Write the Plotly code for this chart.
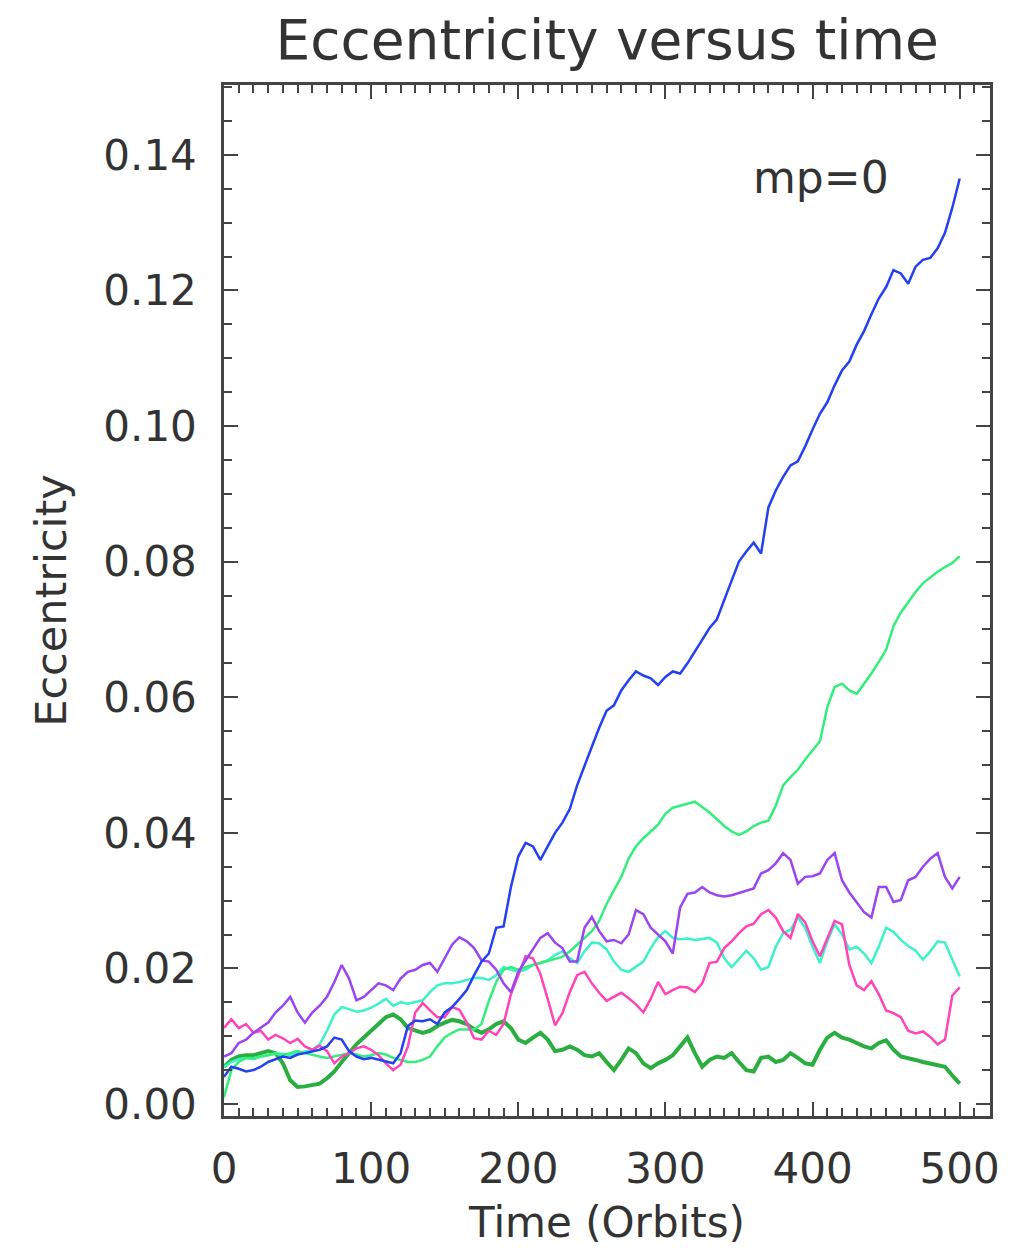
import plotly.graph_objects as go

# Time grid in orbits (one sample every 5 orbits)
time_orbits = list(range(0, 505, 5))

# Eccentricity histories, one row per 50 orbits
ecc_blue = [
    0.0040, 0.0055, 0.0052, 0.0048, 0.0050, 0.0055, 0.0062, 0.0066, 0.0070, 0.0068,
    0.0073, 0.0075, 0.0078, 0.0080, 0.0085, 0.0098, 0.0095, 0.0078, 0.0070, 0.0066,
    0.0068, 0.0065, 0.0063, 0.0060, 0.0075, 0.0115, 0.0123, 0.0122, 0.0125, 0.0118,
    0.0135, 0.0143, 0.0155, 0.0168, 0.0190, 0.0210, 0.0222, 0.0260, 0.0262, 0.0320,
    0.0365, 0.0385, 0.0380, 0.0360, 0.0380, 0.0400, 0.0415, 0.0435, 0.0470, 0.0500,
    0.0527, 0.0555, 0.0580, 0.0588, 0.0610, 0.0625, 0.0638, 0.0632, 0.0628, 0.0618,
    0.0630, 0.0638, 0.0635, 0.0650, 0.0668, 0.0685, 0.0702, 0.0715, 0.0745, 0.0772,
    0.0800, 0.0815, 0.0828, 0.0812, 0.0880, 0.0905, 0.0925, 0.0942, 0.0948, 0.0970,
    0.0995, 0.1018, 0.1035, 0.1060, 0.1082, 0.1095, 0.1120, 0.1140, 0.1165, 0.1188,
    0.1205, 0.1230, 0.1225, 0.1210, 0.1235, 0.1245, 0.1248, 0.1262, 0.1285, 0.1322,
    0.1365,
]

ecc_spring = [
    0.0010, 0.0050, 0.0062, 0.0068, 0.0068, 0.0070, 0.0072, 0.0074, 0.0072, 0.0075,
    0.0078, 0.0075, 0.0072, 0.0070, 0.0068, 0.0070, 0.0072, 0.0075, 0.0073, 0.0070,
    0.0072, 0.0075, 0.0073, 0.0068, 0.0065, 0.0062, 0.0062, 0.0065, 0.0070, 0.0085,
    0.0098, 0.0105, 0.0110, 0.0110, 0.0110, 0.0118, 0.0152, 0.0180, 0.0198, 0.0202,
    0.0198, 0.0202, 0.0205, 0.0208, 0.0212, 0.0215, 0.0217, 0.0225, 0.0235, 0.0245,
    0.0255, 0.0270, 0.0295, 0.0315, 0.0335, 0.0362, 0.0380, 0.0392, 0.0402, 0.0412,
    0.0428, 0.0437, 0.0440, 0.0443, 0.0446, 0.0438, 0.0430, 0.0420, 0.0410, 0.0402,
    0.0397, 0.0402, 0.0410, 0.0415, 0.0418, 0.0440, 0.0470, 0.0482, 0.0493, 0.0508,
    0.0522, 0.0535, 0.0585, 0.0615, 0.0620, 0.0610, 0.0605, 0.0620, 0.0635, 0.0652,
    0.0670, 0.0705, 0.0725, 0.0740, 0.0755, 0.0768, 0.0777, 0.0785, 0.0792, 0.0798,
    0.0808,
]

ecc_aqua = [
    0.0055, 0.0062, 0.0066, 0.0068, 0.0066, 0.0070, 0.0072, 0.0075, 0.0074, 0.0072,
    0.0075, 0.0078, 0.0080, 0.0088, 0.0108, 0.0132, 0.0143, 0.0140, 0.0136, 0.0138,
    0.0142, 0.0148, 0.0155, 0.0145, 0.0150, 0.0148, 0.0150, 0.0153, 0.0165, 0.0175,
    0.0178, 0.0178, 0.0180, 0.0183, 0.0186, 0.0186, 0.0183, 0.0190, 0.0202, 0.0198,
    0.0195, 0.0198, 0.0205, 0.0208, 0.0212, 0.0220, 0.0225, 0.0215, 0.0208, 0.0225,
    0.0238, 0.0237, 0.0228, 0.0210, 0.0198, 0.0195, 0.0202, 0.0210, 0.0230, 0.0246,
    0.0255, 0.0245, 0.0243, 0.0244, 0.0242, 0.0244, 0.0245, 0.0238, 0.0215, 0.0202,
    0.0214, 0.0226, 0.0215, 0.0198, 0.0202, 0.0232, 0.0252, 0.0257, 0.0275, 0.0260,
    0.0232, 0.0208, 0.0240, 0.0265, 0.0250, 0.0228, 0.0232, 0.0222, 0.0208, 0.0232,
    0.0260, 0.0254, 0.0242, 0.0233, 0.0226, 0.0213, 0.0225, 0.0240, 0.0238, 0.0212,
    0.0188,
]

ecc_purple = [
    0.0070, 0.0075, 0.0090, 0.0095, 0.0105, 0.0112, 0.0120, 0.0135, 0.0145, 0.0158,
    0.0135, 0.0120, 0.0135, 0.0145, 0.0158, 0.0180, 0.0205, 0.0185, 0.0153, 0.0158,
    0.0168, 0.0178, 0.0175, 0.0168, 0.0185, 0.0195, 0.0198, 0.0205, 0.0208, 0.0195,
    0.0215, 0.0235, 0.0246, 0.0240, 0.0230, 0.0212, 0.0210, 0.0198, 0.0178, 0.0165,
    0.0195, 0.0212, 0.0228, 0.0245, 0.0252, 0.0238, 0.0230, 0.0210, 0.0210, 0.0260,
    0.0276, 0.0255, 0.0240, 0.0242, 0.0237, 0.0250, 0.0286, 0.0280, 0.0260, 0.0250,
    0.0240, 0.0222, 0.0290, 0.0310, 0.0312, 0.0320, 0.0312, 0.0308, 0.0306, 0.0308,
    0.0311, 0.0314, 0.0318, 0.0340, 0.0345, 0.0355, 0.0370, 0.0360, 0.0325, 0.0335,
    0.0336, 0.0340, 0.0360, 0.0370, 0.0330, 0.0312, 0.0298, 0.0283, 0.0275, 0.0320,
    0.0320, 0.0298, 0.0301, 0.0330, 0.0335, 0.0350, 0.0362, 0.0370, 0.0335, 0.0318,
    0.0335,
]

ecc_pink = [
    0.0112, 0.0125, 0.0112, 0.0118, 0.0105, 0.0108, 0.0095, 0.0102, 0.0097, 0.0090,
    0.0096, 0.0085, 0.0080, 0.0086, 0.0078, 0.0060, 0.0070, 0.0075, 0.0082, 0.0085,
    0.0080, 0.0072, 0.0060, 0.0050, 0.0058, 0.0085, 0.0135, 0.0149, 0.0138, 0.0128,
    0.0128, 0.0143, 0.0139, 0.0120, 0.0097, 0.0095, 0.0108, 0.0102, 0.0118, 0.0162,
    0.0190, 0.0218, 0.0215, 0.0192, 0.0155, 0.0116, 0.0134, 0.0165, 0.0190, 0.0195,
    0.0178, 0.0164, 0.0152, 0.0158, 0.0164, 0.0156, 0.0147, 0.0135, 0.0155, 0.0180,
    0.0162, 0.0168, 0.0173, 0.0172, 0.0165, 0.0178, 0.0208, 0.0210, 0.0230, 0.0240,
    0.0252, 0.0262, 0.0266, 0.0280, 0.0286, 0.0275, 0.0255, 0.0245, 0.0280, 0.0268,
    0.0240, 0.0218, 0.0245, 0.0270, 0.0265, 0.0205, 0.0175, 0.0168, 0.0181, 0.0162,
    0.0138, 0.0134, 0.0128, 0.0108, 0.0104, 0.0107, 0.0099, 0.0088, 0.0095, 0.0160,
    0.0172,
]

ecc_darkgreen = [
    0.0055, 0.0065, 0.0070, 0.0072, 0.0072, 0.0075, 0.0078, 0.0075, 0.0060, 0.0035,
    0.0025, 0.0026, 0.0028, 0.0030, 0.0038, 0.0048, 0.0062, 0.0075, 0.0088, 0.0098,
    0.0108, 0.0118, 0.0128, 0.0132, 0.0125, 0.0112, 0.0108, 0.0105, 0.0108, 0.0115,
    0.0120, 0.0124, 0.0122, 0.0118, 0.0110, 0.0105, 0.0110, 0.0118, 0.0122, 0.0112,
    0.0095, 0.0090, 0.0098, 0.0105, 0.0095, 0.0078, 0.0080, 0.0085, 0.0080, 0.0072,
    0.0070, 0.0075, 0.0062, 0.0050, 0.0065, 0.0082, 0.0075, 0.0060, 0.0053, 0.0060,
    0.0065, 0.0072, 0.0085, 0.0098, 0.0075, 0.0055, 0.0065, 0.0070, 0.0068, 0.0075,
    0.0062, 0.0050, 0.0048, 0.0068, 0.0070, 0.0062, 0.0065, 0.0075, 0.0068, 0.0060,
    0.0058, 0.0080, 0.0098, 0.0105, 0.0098, 0.0095, 0.0090, 0.0085, 0.0082, 0.0090,
    0.0094, 0.0080, 0.0070, 0.0068, 0.0065, 0.0062, 0.0060, 0.0058, 0.0055, 0.0042,
    0.0030,
]

x_ticks = [0, 100, 200, 300, 400, 500]
y_ticks = [0.00, 0.02, 0.04, 0.06, 0.08, 0.10, 0.12, 0.14]

series = [
    (ecc_darkgreen, "#2aae40", 4),
    (ecc_aqua, "#3cf2c8", 2.5),
    (ecc_spring, "#34ee7c", 2.5),
    (ecc_pink, "#ff44b8", 2.5),
    (ecc_purple, "#9a44f2", 2.5),
    (ecc_blue, "#2440f0", 2.5),
]

fig = go.Figure()
for values, colour, width in series:
    fig.add_trace(go.Scatter(
        x=time_orbits, y=values, mode="lines",
        line=dict(color=colour, width=width),
        showlegend=False, hoverinfo="skip",
    ))

FONT = "DejaVu Sans"
INK = "#333333"
FRAME = "#444444"

axis_common = dict(
    showline=True, linewidth=2.5, linecolor=FRAME, mirror="ticks",
    ticks="inside", ticklen=14, tickwidth=2, tickcolor=FRAME,
    showgrid=False, zeroline=False,
    tickfont=dict(family=FONT, size=42, color=INK),
)

fig.update_xaxes(
    range=[0, 520.6], tickvals=x_ticks,
    minor=dict(dtick=10, tick0=0, ticks="inside", ticklen=8, tickwidth=2,
               tickcolor=FRAME, showgrid=False),
    title=dict(text="Time (Orbits)", font=dict(family=FONT, size=42, color=INK),
               standoff=16),
    ticklabelstandoff=14,
    **axis_common,
)
fig.update_yaxes(
    range=[-0.00177, 0.1503], tickvals=y_ticks, tickformat=".2f",
    minor=dict(dtick=0.005, tick0=0, ticks="inside", ticklen=8, tickwidth=2,
               tickcolor=FRAME, showgrid=False),
    title=dict(text="Eccentricity", font=dict(family=FONT, size=43, color=INK),
               standoff=24),
    ticklabelstandoff=16,
    **axis_common,
)

fig.add_annotation(
    x=406, y=0.1366, xref="x", yref="y", text="mp=0", showarrow=False,
    font=dict(family=FONT, size=44, color=INK),
)

fig.update_layout(
    width=1012, height=1254,
    margin=dict(l=224, r=20, t=85, b=138),
    paper_bgcolor="white", plot_bgcolor="white",
    title=dict(text="Eccentricity versus time", x=0.6, xanchor="center",
               y=0.968, yanchor="middle",
               font=dict(family=FONT, size=55, color=INK)),
)

fig.write_html("out.html")
